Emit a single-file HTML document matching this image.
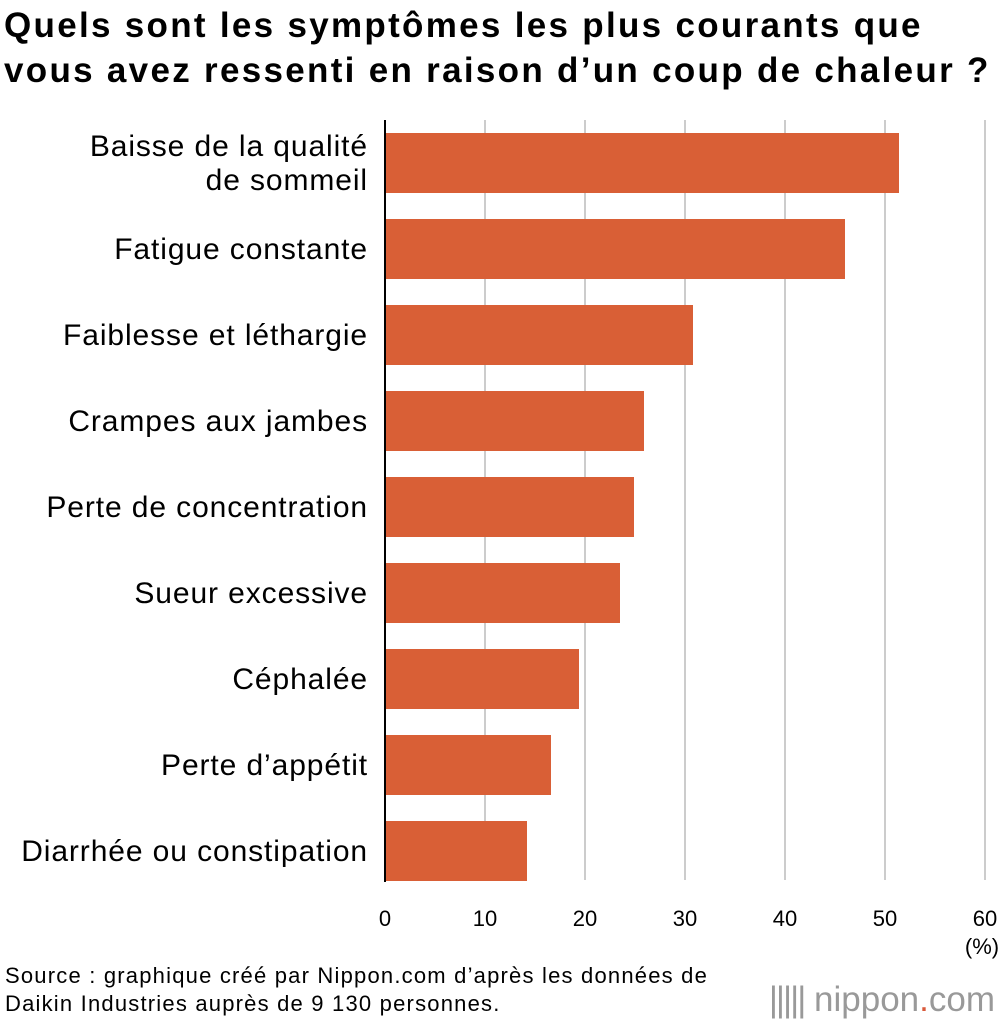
<!DOCTYPE html>
<html><head><meta charset="utf-8"><style>
body{margin:0;background:#fff;font-family:"Liberation Sans",Arial,sans-serif;}
#wrap{position:relative;width:1000px;height:1024px;overflow:hidden;}
.title{position:absolute;left:4px;top:3px;font-size:35px;font-weight:bold;line-height:45px;color:#000;letter-spacing:2.3px;}
.src{position:absolute;left:5px;top:962px;font-size:22px;line-height:28px;color:#000;letter-spacing:1.2px;}
.logo{position:absolute;right:5px;top:980px;font-size:35px;color:#999;}
</style></head><body><div id="wrap">
<div class="title">Quels sont les symptômes les plus courants que<br>vous avez ressenti en raison d’un coup de chaleur ?</div>
<svg id="chart" width="1000" height="1024" style="position:absolute;left:0;top:0"></svg>
<div class="src">Source : graphique créé par Nippon.com d’après les données de<br>Daikin Industries auprès de 9 130 personnes.</div>
<div class="logo"><span style="letter-spacing:-2px">|||||</span> nippon<span style="color:#d9593a">.</span>com</div>
</div>
<script>
const categories=[["Baisse de la qualité","de sommeil"],["Fatigue constante"],["Faiblesse et léthargie"],["Crampes aux jambes"],["Perte de concentration"],["Sueur excessive"],["Céphalée"],["Perte d’appétit"],["Diarrhée ou constipation"]];
const values=[51.4,46.0,30.8,25.9,24.9,23.5,19.4,16.6,14.2];
const ticks=[0,10,20,30,40,50,60];
const svg=document.getElementById('chart');const NS='http://www.w3.org/2000/svg';
const x=v=>385+v*10;const y=i=>133+i*86;
function mk(t,a){const e=document.createElementNS(NS,t);for(const k in a)e.setAttribute(k,a[k]);svg.appendChild(e);return e;}
ticks.forEach(t=>{if(t>0){const g=mk('line',{x1:x(t),x2:x(t),y1:120,y2:880,stroke:'#ccc','stroke-width':2});

}
const l=mk('text',{x:x(t),y:926,'text-anchor':'middle','font-size':22,fill:'#000'});l.textContent=t;

});
const pc=mk('text',{x:982,y:954,'text-anchor':'middle','font-size':22});pc.textContent='(%)';


values.forEach((v,i)=>{const r=mk('rect',{x:x(0),y:y(i),width:x(v)-x(0),height:60,fill:'#d95f36'});


const c=categories[i];const t=mk('text',{x:368,'text-anchor':'end','font-size':30,'letter-spacing':0.9,fill:'#000'});


c.forEach((s,j)=>{const ts=document.createElementNS(NS,'tspan');ts.setAttribute('x',368);ts.setAttribute('y',y(i)+30+10+(j-(c.length-1)/2)*34);ts.textContent=s;t.appendChild(ts);});});
const ax=mk('line',{x1:385,x2:385,y1:120,y2:882,stroke:'#000','stroke-width':2});


</script></body></html>
